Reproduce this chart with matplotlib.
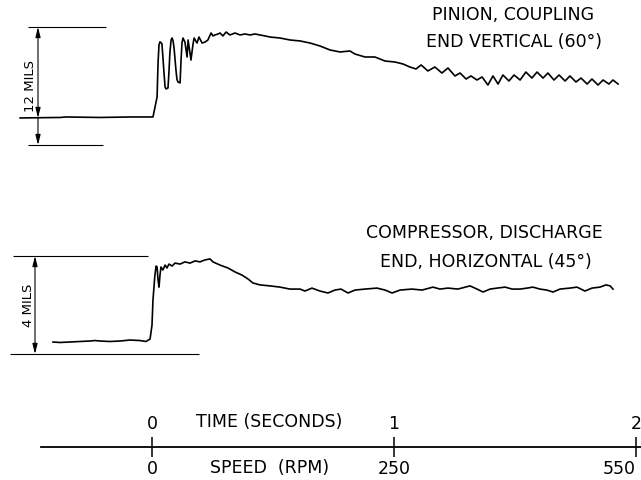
import matplotlib
matplotlib.use('Agg')
import matplotlib.pyplot as plt
import numpy as np

# time (s) and amplitude (mils)
pinion_t = [-0.545, -0.380, -0.355, -0.215, -0.091, 0.004, 0.021, 0.025, 0.029, 0.033,
            0.041, 0.046, 0.050, 0.054, 0.058, 0.066, 0.070, 0.074, 0.079, 0.083,
            0.087, 0.091, 0.099, 0.103, 0.107, 0.116, 0.120, 0.124, 0.128, 0.136,
            0.145, 0.149, 0.157, 0.161, 0.169, 0.174, 0.186, 0.194,
            0.207, 0.219, 0.231, 0.244, 0.252, 0.260, 0.273, 0.281, 0.293, 0.306,
            0.322, 0.343, 0.364, 0.384, 0.405, 0.426, 0.446, 0.467, 0.488, 0.529,
            0.570, 0.612, 0.653, 0.694, 0.736, 0.777, 0.818, 0.839, 0.880, 0.921,
            0.963, 1.004, 1.037, 1.066, 1.091, 1.112, 1.140, 1.169, 1.198, 1.223,
            1.252, 1.273, 1.298, 1.318, 1.343, 1.364, 1.388, 1.409, 1.430, 1.450,
            1.475, 1.496, 1.521, 1.545, 1.570, 1.591, 1.616, 1.636, 1.661, 1.682,
            1.707, 1.727, 1.752, 1.773, 1.798, 1.818, 1.843, 1.864, 1.888, 1.905,
            1.926]
pinion_mils = [2.75, 2.80, 2.85, 2.80, 2.85, 2.85, 4.88, 8.40, 10.20, 10.50,
               10.30, 8.60, 7.20, 5.90, 5.70, 5.80, 7.40, 9.40, 10.70, 10.88,
               10.60, 9.90, 7.63, 6.70, 6.41, 6.31, 8.64, 10.40, 10.88, 10.47,
               8.95, 10.68, 9.36, 8.64, 10.17, 10.88, 10.37, 10.98,
               10.37, 10.47, 10.68, 11.39, 11.09, 11.19, 11.29, 11.39, 11.09, 11.49,
               11.19, 11.39, 11.19, 11.29, 11.19, 11.29, 11.19, 11.09, 10.98, 10.88,
               10.68, 10.58, 10.37, 10.07, 9.66, 9.46, 9.56, 9.25, 8.95, 8.95,
               8.54, 8.44, 8.24, 7.93, 7.73, 8.14, 7.53, 7.93, 7.32, 7.83,
               7.02, 7.32, 6.71, 7.02, 6.61, 6.92, 6.10, 7.02, 6.20, 7.12,
               6.51, 7.12, 6.61, 7.42, 6.81, 7.42, 6.81, 7.32, 6.61, 7.12,
               6.51, 7.02, 6.41, 6.81, 6.20, 6.71, 6.10, 6.61, 6.20, 6.61,
               6.20]

comp_t = [-0.409, -0.380, -0.339, -0.298, -0.256, -0.236, -0.215, -0.174, -0.132, -0.091,
          -0.050, -0.025, -0.008, 0.000, 0.004, 0.012, 0.017, 0.021, 0.025, 0.029,
          0.033, 0.037, 0.045, 0.054, 0.062, 0.070, 0.083, 0.095, 0.116, 0.136,
          0.157, 0.178, 0.198, 0.219, 0.240, 0.252, 0.281, 0.314, 0.343, 0.372,
          0.397, 0.417, 0.446, 0.488, 0.529, 0.570, 0.612, 0.632, 0.661, 0.694,
          0.727, 0.756, 0.781, 0.810, 0.839, 0.880, 0.930, 0.963, 0.992, 1.025,
          1.074, 1.116, 1.161, 1.190, 1.223, 1.264, 1.314, 1.343, 1.368, 1.397,
          1.426, 1.459, 1.488, 1.521, 1.550, 1.574, 1.603, 1.631, 1.657, 1.686,
          1.727, 1.756, 1.789, 1.818, 1.851, 1.876, 1.893, 1.905]
comp_mils = [0.49, 0.47, 0.49, 0.51, 0.53, 0.55, 0.53, 0.51, 0.53, 0.57,
             0.55, 0.51, 0.61, 1.18, 2.20, 3.22, 3.59, 3.55, 3.02, 2.73,
             3.22, 3.55, 3.43, 3.63, 3.51, 3.67, 3.59, 3.71, 3.67, 3.76,
             3.71, 3.80, 3.76, 3.84, 3.88, 3.76, 3.63, 3.51, 3.35, 3.22,
             3.06, 2.90, 2.82, 2.78, 2.73, 2.65, 2.65, 2.57, 2.69, 2.57,
             2.49, 2.61, 2.65, 2.49, 2.61, 2.65, 2.69, 2.61, 2.49, 2.61,
             2.65, 2.61, 2.73, 2.65, 2.69, 2.65, 2.78, 2.65, 2.53, 2.65,
             2.69, 2.73, 2.65, 2.65, 2.69, 2.73, 2.65, 2.61, 2.53, 2.65,
             2.69, 2.73, 2.57, 2.69, 2.73, 2.82, 2.78, 2.65]

time_ticks = [0, 1, 2]
time_labels = ['0', '1', '2']
speed_labels = ['0', '250', '550']

W, H = 641, 480
X0, PX_S = 152, 242          # pixel of t=0, pixels per second
xlim = ((0 - X0) / PX_S, (W - X0) / PX_S)

def t_of(px):
    return (px - X0) / PX_S

plt.rcParams['font.family'] = 'DejaVu Sans'
fig = plt.figure(figsize=(W / 100, H / 100), dpi=100)

# ---- top trace: pinion, 12 mils between y=145 px (0) and y=27 px (12)
s_top = (145 - 27) / 12.0
ax1 = fig.add_axes([0, 0, 1, 1])
ax1.set_xlim(*xlim)
ax1.set_ylim((145 - H) / s_top, 145 / s_top)
ax1.axis('off')
ax1.plot(pinion_t, pinion_mils, color='black', lw=1.2)
ax1.hlines(12, t_of(28), t_of(106), color='black', lw=0.8)
ax1.hlines(0, t_of(28), t_of(103), color='black', lw=0.8)
ax1.hlines(pinion_mils[0], t_of(20), pinion_t[0], color='black', lw=0.8)
ta = t_of(38)
ax1.annotate('', xy=(ta, 12), xytext=(ta, pinion_mils[0]),
             arrowprops=dict(arrowstyle='<|-|>,head_length=0.6,head_width=0.15',
                             color='black', lw=0.8, shrinkA=0, shrinkB=0))
ax1.annotate('', xy=(ta, 0), xytext=(ta, pinion_mils[0]),
             arrowprops=dict(arrowstyle='-|>,head_length=0.6,head_width=0.15',
                             color='black', lw=0.8, shrinkA=0, shrinkB=0))
ax1.text(t_of(30), 6, '12 MILS', rotation=90, ha='center', va='center', fontsize=9.5)
ax1.text(t_of(513), (145 - 15) / s_top, 'PINION, COUPLING', ha='center', va='center', fontsize=12.5)
ax1.text(t_of(514), (145 - 42) / s_top, 'END VERTICAL (60°)', ha='center', va='center', fontsize=12.5)

# ---- bottom trace: compressor, 4 mils between y=354 px (0) and y=256 px (4)
s_bot = (354 - 256) / 4.0
ax2 = fig.add_axes([0, 0, 1, 1])
ax2.set_xlim(*xlim)
ax2.set_ylim((354 - H) / s_bot, 354 / s_bot)
ax2.axis('off')
ax2.patch.set_alpha(0)
ax2.plot(comp_t, comp_mils, color='black', lw=1.2)
ax2.hlines(4, t_of(13), t_of(148), color='black', lw=0.8)
ax2.hlines(0, t_of(10), t_of(199), color='black', lw=0.8)
tb = t_of(35)
ax2.annotate('', xy=(tb, 4), xytext=(tb, 0),
             arrowprops=dict(arrowstyle='<|-|>,head_length=0.6,head_width=0.15',
                             color='black', lw=0.8, shrinkA=0, shrinkB=0))
ax2.text(t_of(29), 2, '4 MILS', rotation=90, ha='center', va='center', fontsize=9.5)
ax2.text(t_of(484), (354 - 233) / s_bot, 'COMPRESSOR, DISCHARGE', ha='center', va='center', fontsize=12.5)
ax2.text(t_of(486), (354 - 262) / s_bot, 'END, HORIZONTAL (45°)', ha='center', va='center', fontsize=12.5)

# ---- time / speed scale
ax3 = fig.add_axes([41 / W, (H - 447) / H, (W - 41) / W, 0.0001])
ax3.set_xlim(t_of(41), xlim[1])
ax3.patch.set_alpha(0)
for sp in ['top', 'left', 'right']:
    ax3.spines[sp].set_visible(False)
ax3.spines['bottom'].set_linewidth(1.3)
ax3.set_yticks([])
ax3.set_xticks(time_ticks)
ax3.set_xticklabels(speed_labels, fontsize=12.5)
ax3.get_xticklabels()[-1].set_ha('right')
ax3.tick_params(axis='x', direction='inout', length=14, width=1.1, pad=2)
sec = ax3.secondary_xaxis('top')
sec.set_xticks(time_ticks)
sec.set_xticklabels(time_labels, fontsize=12.5)
sec.tick_params(axis='x', length=0, pad=10)
sec.spines['top'].set_visible(False)
ax3.annotate('TIME (SECONDS)', xy=(t_of(269), 0), xycoords=('data', 'axes fraction'),
             xytext=(0, 18), textcoords='offset points', ha='center', va='center', fontsize=12.5)
ax3.annotate('SPEED  (RPM)', xy=(t_of(270), 0), xycoords=('data', 'axes fraction'),
             xytext=(0, -15), textcoords='offset points', ha='center', va='center', fontsize=12.5)

fig.savefig('out.png', dpi=100)
